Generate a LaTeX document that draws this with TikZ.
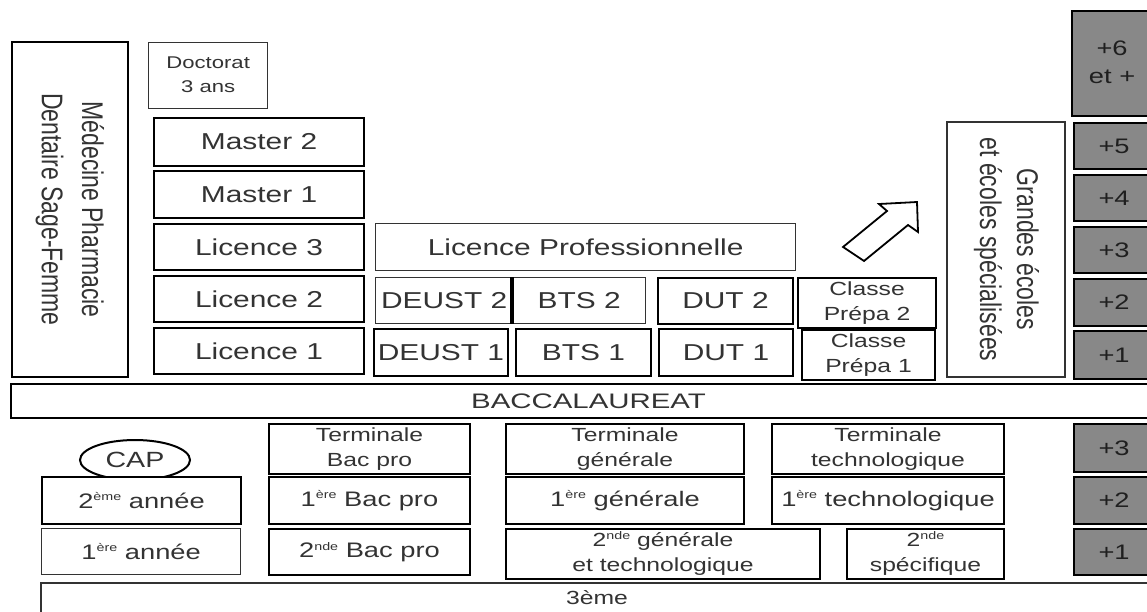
\documentclass[tikz,border=0pt]{standalone}
\usepackage{fontspec}
\setmainfont{Liberation Sans}
\usepackage{graphicx}
\usetikzlibrary{shapes.geometric}
\newcommand\hs[1]{\scalebox{1.3}[1]{#1}}
\newcommand\twol[2]{\hs{\begin{tabular}{@{}c@{}}#1\\#2\end{tabular}}}
\newcommand\rotl[2]{\scalebox{1}[1.3]{\begin{tabular}{@{}c@{}}#1\\#2\end{tabular}}}
\newcommand\sups[1]{\raisebox{7.5pt}{\fontsize{11}{11}\selectfont #1}}
\definecolor{boxgrey}{RGB}{136,136,136}
\tikzset{
  box/.style={draw=black, line width=2pt, fill=white, inner sep=0pt, anchor=north west,
    text=black!80, font=\fontsize{23}{28}\selectfont},
  thinbox/.style={box, line width=1.3pt, draw=black!80},
  greybox/.style={box, line width=2.2pt, fill=boxgrey, text=black!88, font=\fontsize{21}{28}\selectfont},
  small/.style={font=\fontsize{21}{25}\selectfont},
  smalltwo/.style={font=\fontsize{19}{25}\selectfont},
  openbox/.style={draw=black!80, line width=1.3pt},
}
\begin{document}
\begin{tikzpicture}[x=1pt,y=-1pt]
\useasboundingbox (0,0) rectangle (1147,611);
\clip (0,0) rectangle (1147,611);
\fill[white] (0,0) rectangle (1147,611);

% upper part
\node[box, rotate=-90, anchor=center, minimum width=335pt, minimum height=116pt] (med) at (70,209.5)
  {\fontsize{23}{31}\selectfont\rotl{Médecine Pharmacie}{Dentaire Sage-Femme}};
\node[thinbox, minimum width=119pt, minimum height=66pt, font=\fontsize{17}{24}\selectfont] (doc) at (148,42) {\twol{Doctorat}{3 ans}};
\node[box, minimum width=210pt, minimum height=48pt] (m2) at (153,117) {\hs{Master 2}};
\node[box, minimum width=210pt, minimum height=47pt] (m1) at (153,170) {\hs{Master 1}};
\node[box, minimum width=210pt, minimum height=46pt] (l3) at (153,223) {\hs{Licence 3}};
\node[box, minimum width=210pt, minimum height=46pt] (l2) at (153,275) {\hs{Licence 2}};
\node[box, minimum width=210pt, minimum height=46pt] (l1) at (153,327) {\hs{Licence 1}};

\node[thinbox, minimum width=420pt, minimum height=47pt] (lpro) at (375,223) {\hs{Licence Professionnelle}};
\node[thinbox, minimum width=137pt, minimum height=46pt] (deust2) at (375,277) {\hs{DEUST 2}};
\node[thinbox, minimum width=133pt, minimum height=46pt] (bts2) at (512,277) {\hs{BTS 2}};
\draw[line width=4pt] (bts2.north west) -- (bts2.south west);
\node[box, minimum width=135pt, minimum height=46pt] (dut2) at (657,277) {\hs{DUT 2}};
\node[box, minimum width=134pt, minimum height=47pt] (deust1) at (373,328) {\hs{DEUST 1}};
\node[box, minimum width=135pt, minimum height=47pt] (bts1) at (515,328) {\hs{BTS 1}};
\node[box, minimum width=134pt, minimum height=47pt] (dut1) at (658,328) {\hs{DUT 1}};
\node[box, smalltwo, minimum width=138pt, minimum height=46pt] (cp2) at (797,277) {\raisebox{-3pt}{\twol{Classe}{Prépa 2}}};
\node[box, smalltwo, minimum width=133pt, minimum height=48pt] (cp1) at (801,329) {\raisebox{-3pt}{\twol{Classe}{Prépa 1}}};

% arrow
\draw[line width=1.8pt, fill=white, line join=miter]
  (843,247) -- (887,211) -- (879,204) -- (917,202) -- (918,232) -- (908,225) -- (864,261) -- cycle;

\node[thinbox, rotate=-90, anchor=center, minimum width=255pt, minimum height=118pt] (ge) at (1006,249.5)
  {\fontsize{23}{28.5}\selectfont\rotl{Grandes écoles}{et écoles spécialisées}};

% years, upper
\node[greybox, minimum width=80pt, minimum height=105pt] (p6) at (1071,10) {\raisebox{8pt}{\twol{+6}{et +}}};
\node[greybox, minimum width=80pt, minimum height=46pt] (p5) at (1073,122) {\hs{+5}};
\node[greybox, minimum width=80pt, minimum height=46pt] (p4) at (1073,174) {\hs{+4}};
\node[greybox, minimum width=80pt, minimum height=46pt] (p3) at (1073,226) {\hs{+3}};
\node[greybox, minimum width=80pt, minimum height=47pt] (p2) at (1073,278) {\hs{+2}};
\node[greybox, minimum width=80pt, minimum height=48pt] (p1) at (1073,330) {\hs{+1}};

% baccalaureat
\node[box, minimum width=1155pt, minimum height=34pt, font=\fontsize{21}{25}\selectfont] (bac) at (10,383) {\scalebox{1.4}[1]{BACCALAUREAT}};

% lower part
\node[draw, ellipse, line width=2pt, fill=white, inner sep=0pt, minimum width=110pt, minimum height=40pt,
  text=black!80, font=\fontsize{22}{26}\selectfont] (cap) at (135,460) {\hs{CAP}};
\node[box, small, minimum width=199pt, minimum height=47pt] (an2) at (41,476) {\hs{2\sups{ème} année}};
\node[thinbox, small, minimum width=199pt, minimum height=46pt] (an1) at (41,528) {\hs{1\sups{ère} année}};

\node[box, smalltwo, minimum width=201pt, minimum height=48pt] (tbp) at (268,423) {\raisebox{-2pt}{\twol{Terminale}{Bac pro}}};
\node[box, small, minimum width=201pt, minimum height=47pt] (b1) at (268,476) {\hs{1\sups{ère} Bac pro}};
\node[box, small, minimum width=201pt, minimum height=46pt] (b2) at (268,528) {\hs{2\sups{nde} Bac pro}};

\node[box, smalltwo, minimum width=238pt, minimum height=48pt] (tg) at (505,423) {\raisebox{-2pt}{\twol{Terminale}{générale}}};
\node[box, small, minimum width=238pt, minimum height=47pt] (g1) at (505,476) {\hs{1\sups{ère} générale}};
\node[box, smalltwo, minimum width=314pt, minimum height=46pt] (g2) at (505,528) {\raisebox{-2pt}{\twol{2\sups{nde} générale}{et technologique}}};

\node[box, smalltwo, minimum width=232pt, minimum height=48pt] (tt) at (771,423) {\raisebox{-2pt}{\twol{Terminale}{technologique}}};
\node[box, small, minimum width=232pt, minimum height=47pt] (t1) at (771,476) {\hs{1\sups{ère} technologique}};
\node[box, smalltwo, minimum width=157pt, minimum height=46pt] (t2) at (846,528) {\raisebox{-2pt}{\twol{2\sups{nde}}{spécifique}}};

\node[greybox, minimum width=80pt, minimum height=48pt] (q3) at (1073,423) {\hs{+3}};
\node[greybox, minimum width=80pt, minimum height=47pt] (q2) at (1073,476) {\hs{+2}};
\node[greybox, minimum width=80pt, minimum height=46pt] (q1) at (1073,528) {\hs{+1}};

% 3eme : open box running off the bottom edge
\node[box, draw=none, fill=none, minimum width=1110pt, minimum height=27pt, font=\fontsize{19}{24}\selectfont] (trois) at (41,583) {\hs{3ème}};
\draw[openbox] (trois.south west) -- (trois.north west) -- (trois.north east);
\end{tikzpicture}
\end{document}
